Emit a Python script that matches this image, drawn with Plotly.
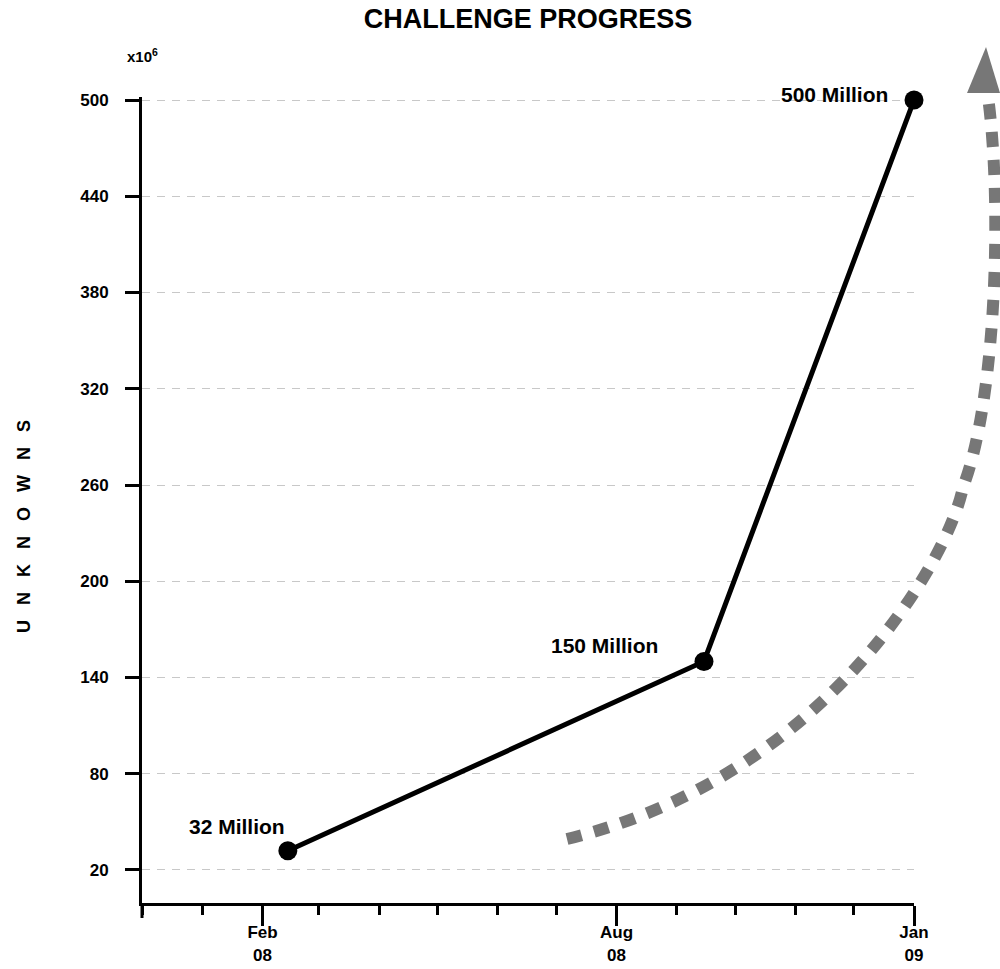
import plotly.graph_objects as go

# Milestones of the challenge (values in millions of unknowns)
dates = ["2008-02-14", "2008-09-15", "2009-01-01"]
unknowns = [32, 150, 500]
labels = ["32 Million", "150 Million", "500 Million"]

y_tick_values = [20, 80, 140, 200, 260, 320, 380, 440, 500]
x_major_ticks = ["2008-02-01", "2008-08-01", "2009-01-01"]
x_major_text = ["Feb<br>08", "Aug<br>08", "Jan<br>09"]

# Label offsets (pixels) relative to each milestone marker
label_dx = [-51, -99, -80]
label_dy = [24, 16, 6]

FONT = "Liberation Sans, Arial, Helvetica, sans-serif"
W, H = 1000, 969
ML, MR, MT, MB = 142, 86, 97, 66


def paper(x, y):
    """Pixel position on the page -> paper coordinates."""
    return (x - ML) / (W - ML - MR), (H - MB - y) / (H - MT - MB)


def pt(x, y):
    px_, py_ = paper(x, y)
    return f"{px_:.4f},{py_:.4f}"


fig = go.Figure()

fig.add_trace(go.Scatter(
    x=dates, y=unknowns,
    mode="lines+markers",
    line=dict(color="black", width=5),
    marker=dict(color="black", size=19),
    cliponaxis=False,
    hoverinfo="skip",
    showlegend=False,
))

for d, v, txt, dx, dy in zip(dates, unknowns, labels, label_dx, label_dy):
    fig.add_annotation(
        x=d, y=v, text=txt, showarrow=False,
        xanchor="center", yanchor="middle", xshift=dx, yshift=dy,
        font=dict(family=FONT, size=21, color="black", weight="bold"),
    )

# Curved dashed "growth" arrow on the right
curve = (f"M {pt(567, 839)} C {pt(830, 775)} {pt(950, 555)} {pt(963, 487)} "
         f"C {pt(995, 405)} {pt(1003, 210)} {pt(988, 97)}")
fig.add_shape(type="path", xref="paper", yref="paper", path=curve,
              line=dict(color="#777777", width=12, dash="15px,13px"),
              fillcolor="rgba(0,0,0,0)")
head = f"M {pt(967, 93)} L {pt(986, 47)} L {pt(1000, 93)} Z"
fig.add_shape(type="path", xref="paper", yref="paper", path=head,
              line=dict(width=0), fillcolor="#777777")

# Y axis line continues a little below the x axis
fig.add_shape(type="line", xref="paper", yref="paper",
              x0=0, x1=0, y0=0, y1=paper(142, 918)[1],
              line=dict(color="black", width=3))

# Axis title and multiplier
fig.add_annotation(
    xref="paper", yref="paper", x=paper(24, 527)[0], y=paper(24, 527)[1],
    text="\u00a0\u00a0\u00a0".join("UNKNOWNS"), textangle=-90, showarrow=False,
    xanchor="center", yanchor="middle",
    font=dict(family=FONT, size=18, color="black", weight="bold"),
)
fig.add_annotation(
    xref="paper", yref="paper", x=0, y=paper(142, 56)[1],
    text="x10<sup>6</sup>", showarrow=False, xanchor="center", yanchor="middle",
    font=dict(family=FONT, size=15, color="black", weight="bold"),
)

fig.update_layout(
    width=W, height=H,
    margin=dict(l=ML, r=MR, t=MT, b=MB, autoexpand=False),
    paper_bgcolor="white", plot_bgcolor="white",
    title=dict(
        text="CHALLENGE PROGRESS", x=0.5, xref="paper", xanchor="center",
        y=1 - 19 / H, yanchor="middle",
        font=dict(family=FONT, size=27, color="black", weight="bold"),
    ),
    xaxis=dict(
        type="date", range=["2007-12-01", "2009-01-01"], automargin=False,
        tickmode="array", tickvals=x_major_ticks, ticktext=x_major_text,
        ticks="outside", ticklen=20, tickwidth=3, tickcolor="black",
        ticklabelstandoff=-8,
        minor=dict(dtick="M1", tick0="2007-12-01", ticks="outside",
                   ticklen=9, tickwidth=3, tickcolor="black", showgrid=False),
        showline=True, linewidth=3, linecolor="black",
        showgrid=False, zeroline=False,
        tickfont=dict(family=FONT, size=17, color="black", weight="bold"),
    ),
    yaxis=dict(
        range=[-0.6, 501.9], automargin=False,
        tickmode="array", tickvals=y_tick_values,
        ticks="outside", ticklen=14, tickwidth=3, tickcolor="black",
        ticklabelstandoff=13,
        showline=True, linewidth=3, linecolor="black",
        showgrid=True, gridcolor="#c8c8c8", gridwidth=1, griddash="8px,7px",
        zeroline=False,
        tickfont=dict(family=FONT, size=17, color="black", weight="bold"),
    ),
)

fig.write_html("out.html")
